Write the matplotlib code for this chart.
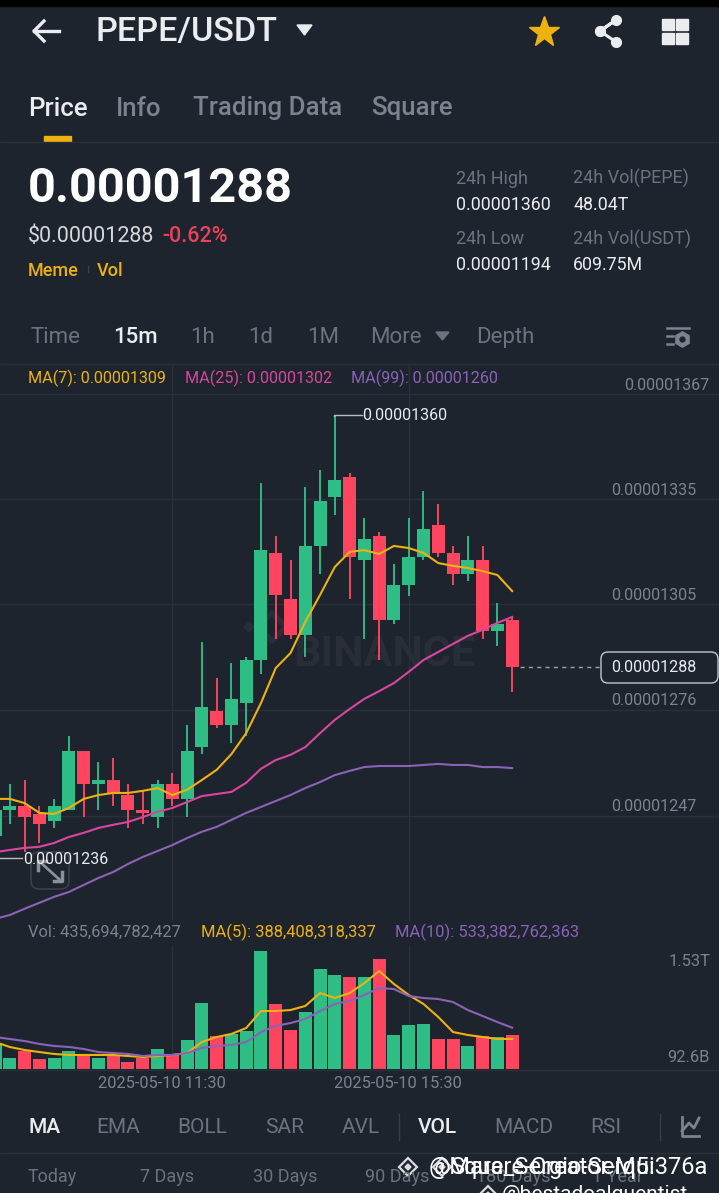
from __future__ import annotations

import matplotlib
matplotlib.use("Agg")
import matplotlib.pyplot as plt
from matplotlib.patches import FancyBboxPatch, Polygon, Rectangle

# prices are in units of 1e-8 USDT
opens = [1239.7, 1247.1, 1248.3, 1246.0, 1244.0, 1247.1, 1264.0, 1254.6, 1255.7, 1251.4, 1247.1, 1245.1,
         1254.6, 1250.3, 1265.1, 1275.4, 1271.4, 1277.7, 1290.0, 1320.6, 1307.4, 1297.1, 1322.6, 1336.6,
         1342.3, 1318.6, 1325.4, 1301.4, 1311.4, 1319.4, 1328.6, 1320.6, 1314.6, 1318.6, 1298.3, 1301.4]
closes = [1247.1, 1248.3, 1245.1, 1243.1, 1248.3, 1264.0, 1254.6, 1255.7, 1252.0, 1247.1, 1246.3, 1254.6,
          1250.3, 1264.0, 1276.6, 1271.4, 1278.9, 1290.0, 1321.4, 1308.6, 1297.1, 1322.6, 1335.4, 1341.4,
          1319.4, 1324.6, 1301.4, 1311.4, 1319.4, 1327.4, 1320.6, 1314.6, 1318.6, 1298.3, 1300.3, 1288.0]
highs = [1247.7, 1254.6, 1255.7, 1248.3, 1250.3, 1268.3, 1264.0, 1260.9, 1262.0, 1254.6, 1252.6, 1255.7,
         1257.7, 1271.4, 1295.1, 1284.9, 1289.1, 1290.9, 1340.6, 1325.4, 1318.6, 1339.4, 1344.3, 1360.0,
         1343.4, 1330.6, 1326.6, 1317.4, 1330.6, 1338.3, 1334.6, 1322.6, 1325.4, 1322.6, 1306.3, 1302.3]
lows = [1239.7, 1243.1, 1235.0, 1237.7, 1242.0, 1247.1, 1245.1, 1247.1, 1248.3, 1242.0, 1243.1, 1242.0,
        1248.3, 1245.1, 1263.1, 1270.6, 1266.3, 1268.3, 1286.0, 1296.0, 1296.0, 1290.9, 1314.6, 1331.4,
        1307.4, 1296.0, 1290.0, 1300.3, 1308.3, 1318.6, 1319.4, 1311.4, 1312.6, 1296.0, 1294.0, 1280.9]

ma7 = [1250.3, 1250.3, 1249.1, 1246.3, 1246.0, 1247.7, 1250.3, 1251.4, 1252.0, 1252.0, 1252.6, 1253.4,
       1251.4, 1252.9, 1255.7, 1258.6, 1263.1, 1269.1, 1277.7, 1287.7, 1292.0, 1300.9, 1308.6, 1316.6,
       1320.9, 1321.4, 1320.3, 1322.6, 1322.0, 1320.6, 1317.7, 1316.9, 1316.3, 1315.4, 1314.3, 1309.7]
ma25 = [1235.1, 1235.7, 1236.3, 1236.6, 1237.7, 1239.4, 1240.6, 1242.0, 1242.9, 1243.7, 1245.1, 1246.6,
        1247.7, 1249.4, 1251.1, 1251.7, 1252.3, 1254.9, 1258.9, 1261.4, 1262.9, 1265.1, 1269.1, 1272.9,
        1276.0, 1278.9, 1281.1, 1283.4, 1286.6, 1290.0, 1292.3, 1294.6, 1296.9, 1298.6, 1300.6, 1302.3]
ma99 = [1216.0, 1217.1, 1218.9, 1220.6, 1222.3, 1223.7, 1225.7, 1227.7, 1229.4, 1231.7, 1233.7, 1235.4,
        1237.1, 1239.1, 1240.9, 1242.3, 1244.3, 1246.3, 1248.0, 1249.7, 1251.4, 1253.4, 1255.1, 1257.1,
        1258.3, 1259.4, 1259.7, 1259.7, 1259.7, 1260.0, 1260.3, 1260.0, 1260.0, 1259.4, 1259.4, 1259.1]

# volume in billions
volumes = [335, 142, 232, 129, 142, 232, 181, 142, 181, 90, 142, 258, 181, 374, 851, 426, 452, 490,
           1522, 839, 503, 735, 1290, 1213, 1187, 1187, 1419, 439, 568, 581, 387, 387, 297, 426, 413, 436]
vol_ma5 = [348, 284, 245, 219, 194, 181, 181, 181, 181, 168, 155, 168, 181, 206, 348, 413, 452, 529,
           748, 748, 761, 813, 980, 916, 980, 1109, 1264, 1097, 955, 839, 671, 477, 439, 413, 387, 388]
vol_ma10 = [413, 387, 361, 323, 297, 284, 258, 219, 206, 194, 168, 181, 181, 206, 271, 297, 310, 348,
            477, 555, 593, 645, 748, 839, 877, 955, 1045, 1032, 942, 916, 903, 864, 761, 684, 606, 533]

grid_prices = [1366.0, 1336.0, 1306.0, 1275.7, 1245.4]
grid_labels = ["0.00001367", "0.00001335", "0.00001305", "0.00001276", "0.00001247"]
grid_candles = [12, 28]
date_labels = ["2025-05-10 11:30", "2025-05-10 15:30"]

BG = "#1e242e"
GRID = "#2a2f39"
GREEN = "#2ebd85"
RED = "#fd4560"
GOLD = "#eeb20f"
PINK = "#d8479e"
PURPLE = "#8a62b8"
WHITE = "#eaecef"
GRAY = "#7d838e"
DIM = "#6d737e"
MARK = "#282d38"

W, H = 719, 1193
plt.rcParams["font.family"] = ["Roboto", "DejaVu Sans"]

fig = plt.figure(figsize=(W / 100, H / 100), dpi=100, facecolor=BG)


def axes_px(top, bottom):
    return fig.add_axes([0, 1 - bottom / H, 1, (bottom - top) / H], facecolor="none")


def pixel_axes():
    pax = fig.add_axes([0, 0, 1, 1], facecolor="none")
    pax.set_xlim(0, W)
    pax.set_ylim(H, 0)
    pax.axis("off")
    return pax


def style_axes(ax):
    for side in ax.spines.values():
        side.set_visible(False)
    ax.tick_params(left=False, bottom=False, labelleft=False, labelbottom=False)
    ax.set_xlim(0.338, 49.0)
    ax.set_xticks(grid_candles)
    ax.grid(axis="x", color=GRID, lw=1.0)
    ax.set_axisbelow(True)


idx = list(range(len(opens)))
colors = [GREEN if c >= o else RED for o, c in zip(opens, closes)]

# logo sits behind the candles
back = pixel_axes()
back.add_patch(Polygon([(244, 627), (249, 622), (254, 627), (249, 632)], closed=True, color=MARK))
back.plot([258, 272, 286, 272, 258], [627, 613, 627, 641, 627], color=MARK, lw=4)

# candles
ax = axes_px(364, 921)
style_axes(ax)
ax.set_ylim(1215.4, 1374.6)
ax.set_yticks(grid_prices)
ax.grid(axis="y", color=GRID, lw=1.0)
ax.text(0.535, 0.478, "BINANCE", transform=ax.transAxes, color=MARK, fontsize=31,
        fontweight="bold", ha="center", va="center", zorder=1)
ax.vlines(idx, lows, highs, colors=colors, lw=1.35, zorder=2)
bottoms = [min(o, c) for o, c in zip(opens, closes)]
heights = [abs(o - c) for o, c in zip(opens, closes)]
ax.bar(idx, heights, bottom=bottoms, width=0.88, color=colors, zorder=3)
ax.plot(idx, ma7, color=GOLD, lw=1.5, zorder=4)
ax.plot(idx, ma25, color=PINK, lw=1.5, zorder=4)
ax.plot(idx, ma99, color=PURPLE, lw=1.5, zorder=4)

# volume
vax = axes_px(945, 1069)
style_axes(vax)
vax.set_ylim(0, 1600)
vax.bar(idx, volumes, width=0.88, color=colors, zorder=3)
vax.plot(idx, vol_ma5, color=GOLD, lw=1.5, zorder=4)
vax.plot(idx, vol_ma10, color=PURPLE, lw=1.5, zorder=4)

# everything around the chart is placed in screen pixels
ui = pixel_axes()


def txt(x, y, s, size=12.5, color=GRAY, weight="normal", ha="left", **kw):
    ui.text(x, y + 1.5, s, fontsize=size, color=color, fontweight=weight, ha=ha, va="center", **kw)


def hline(y, x0=0, x1=W, color=GRID, lw=1.0):
    ui.plot([x0, x1], [y, y], color=color, lw=lw, solid_capstyle="butt")


def diamond(x, y, r=9, color="#d8dade"):
    ui.add_patch(Polygon([(x - r, y), (x, y - r), (x + r, y), (x, y + r)], closed=True, fill=False, ec=color, lw=1.6))
    ui.add_patch(Polygon([(x - 3, y), (x, y - 3), (x + 3, y), (x, y + 3)], closed=True, color=color))


ui.add_patch(Rectangle((0, 0), W, 6, color="black"))

# header
ui.plot([34, 59], [31, 31], color=WHITE, lw=2.4)
ui.plot([44, 34, 44], [21, 31, 41], color=WHITE, lw=2.4)
txt(95, 30.5, "PEPE/USDT", 24.6, WHITE, "medium")
ui.add_patch(Polygon([(297, 25), (312, 25), (304.5, 35)], closed=True, color=WHITE))
ui.plot([544], [32], marker="*", ms=23, color=GOLD, mec=GOLD)
ui.plot([600, 616, 600, 616], [31, 20, 31, 42], color=WHITE, lw=2.2, marker="o", ms=7)
for gx, gy in [(662, 19), (676, 19), (662, 33), (676, 33)]:
    ui.add_patch(Rectangle((gx, gy), 11.5, 11, color=WHITE))

txt(28, 107, "Price", 18.6, WHITE, "medium")
txt(116, 107, "Info", 18.6, GRAY, "medium")
txt(193, 107, "Trading Data", 18.6, GRAY, "medium")
txt(371, 107, "Square", 18.6, GRAY, "medium")
ui.add_patch(Rectangle((44, 136), 27, 5, color=GOLD))
hline(141.5)

# price block
txt(28, 187, "0.00001288", 35, "white", "bold")
txt(28, 235, "$0.00001288", 15.5, "#d6d8dc")
txt(162, 235, "-0.62%", 15.5, "#e8425a", "medium")
txt(28, 269, "Meme", 13, GOLD, "medium")
txt(97, 269, "Vol", 13, GOLD, "medium")
ui.plot([88, 88], [266, 272], color="#3a3f48", lw=1)

txt(456, 177, "24h High", 13, DIM)
txt(456, 203, "0.00001360", 12.8, WHITE)
txt(573, 177, "24h Vol(PEPE)", 13, DIM)
txt(573, 203, "48.04T", 12.8, WHITE)
txt(456, 238, "24h Low", 13, DIM)
txt(456, 264, "0.00001194", 12.8, WHITE)
txt(573, 238, "24h Vol(USDT)", 13, DIM)
txt(573, 264, "609.75M", 12.8, WHITE)

# interval row
txt(30, 336, "Time", 16, DIM)
txt(113, 336, "15m", 16, WHITE, "medium")
txt(190, 336, "1h", 16, DIM)
txt(248, 336, "1d", 16, DIM)
txt(307, 336, "1M", 16, DIM)
txt(370, 336, "More", 16, DIM)
ui.add_patch(Polygon([(436, 332), (449, 332), (442.5, 340)], closed=True, color=DIM))
txt(476, 336, "Depth", 16, DIM)
ui.plot([667, 689], [328, 328], color=GRAY, lw=1.8)
ui.plot([667, 673], [336, 336], color=GRAY, lw=1.8)
ui.plot([667, 673], [344, 344], color=GRAY, lw=1.8)
ui.plot([682], [339], marker="h", ms=11, color=GRAY)
ui.plot([682], [339], marker="o", ms=3.5, color=BG)
hline(363.5)

# MA legend and price labels
txt(28, 377, "MA(7): 0.00001309", 11.6, GOLD)
txt(185, 377, "MA(25): 0.00001302", 11.6, PINK)
txt(351, 377, "MA(99): 0.00001260", 11.6, PURPLE)
for (x_r, y_t), label in zip([(709, 384), (696, 489), (696, 594), (697, 699), (697, 805)], grid_labels):
    txt(x_r, y_t, label, 11.6, GRAY, ha="right")

ui.plot([520, 601], [667, 667], color="#9aa0a8", lw=1, ls=(0, (3, 3)))
ui.add_patch(FancyBboxPatch((601, 652), 117, 31, boxstyle="round,pad=0,rounding_size=7", fc=BG, ec="#c4c7cc", lw=1))
txt(611, 666.5, "0.00001288", 11.5, WHITE)

ui.plot([362, 334, 334], [415, 415, 416], color="#b8bcc2", lw=1)
txt(362, 414, "0.00001360", 11.5, WHITE)
ui.plot([0, 22], [858, 858], color="#b8bcc2", lw=1)
ui.add_patch(FancyBboxPatch((31, 852), 38, 37, boxstyle="round,pad=0,rounding_size=8", fc="none", ec="#3a3f49", lw=1.2))
txt(23, 857.5, "0.00001236", 11.5, WHITE)
ui.plot([40, 60], [862, 880], color="#8c9199", lw=2)
ui.plot([38, 38, 46], [870, 861, 861], color="#8c9199", lw=2.5)
ui.plot([54, 62, 62], [881, 881, 872], color="#8c9199", lw=2.5)

# volume legend and labels
txt(28, 931, "Vol: 435,694,782,427", 11.9, GRAY)
txt(201, 931, "MA(5): 388,408,318,337", 11.9, GOLD)
txt(395, 931, "MA(10): 533,382,762,363", 11.9, PURPLE)
txt(710, 960, "1.53T", 11.9, GRAY, ha="right")
txt(710, 1056, "92.6B", 11.9, GRAY, ha="right")
hline(1069.5)
txt(98, 1082, date_labels[0], 11.9, GRAY)
txt(334, 1082, date_labels[1], 11.9, GRAY)

# indicator tabs
for x_t, label in [(96, "EMA"), (177, "BOLL"), (265, "SAR"), (342, "AVL"), (494, "MACD"), (590, "RSI")]:
    txt(x_t, 1126, label, 15, DIM)
txt(28, 1126, "MA", 15, WHITE, "medium")
txt(418, 1126, "VOL", 15, WHITE, "medium")
ui.plot([399, 399], [1114, 1140], color="#383d47", lw=1)
ui.plot([660, 660], [1114, 1140], color="#383d47", lw=1)
ui.plot([682, 682, 699], [1117, 1136, 1136], color=GRAY, lw=2)
ui.plot([682, 689, 694, 699], [1131, 1123, 1128, 1118], color=GRAY, lw=2)
hline(1153)

# bottom row, with the reposted watermark over it
for x_t, label in [(28, "Today"), (140, "7 Days"), (253, "30 Days"), (365, "90 Days"), (476, "180 Days"), (592, "1 Year")]:
    txt(x_t, 1175, label, 13, DIM)
diamond(408, 1167)
diamond(442, 1167)
txt(429, 1166, "@Mare_Sergio-Serqui", 17, "white")
txt(450, 1166, "Square-Creator-M5:376a", 17, "white")
diamond(488, 1195)
txt(502, 1193, "@bestadoalquentist", 15, "white", clip_on=True)

fig.savefig("out.png", dpi=100, facecolor=BG)
plt.close(fig)
